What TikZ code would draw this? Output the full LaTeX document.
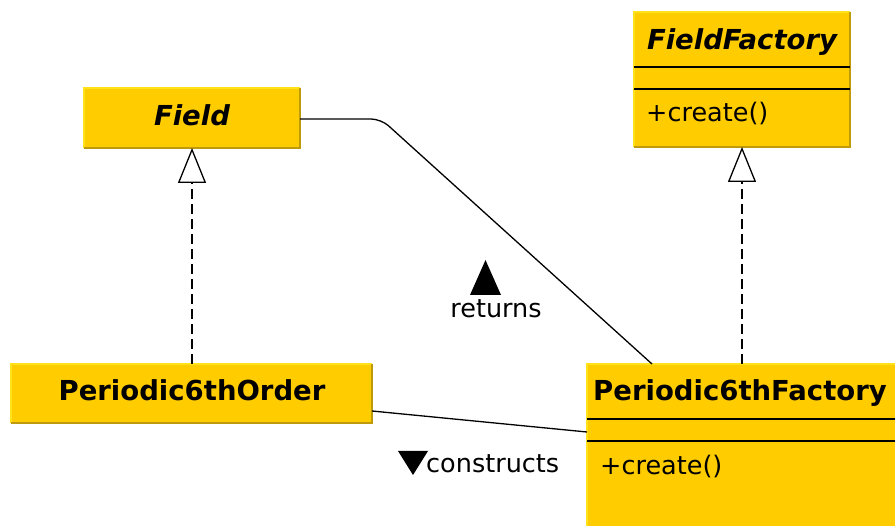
\documentclass[tikz,border=0pt]{standalone}
\usepackage{fontspec}
\setmainfont{DejaVu Sans}
\usetikzlibrary{arrows.meta,calc}

\definecolor{umlfill}{HTML}{FFCC00}
\definecolor{umlhi}{HTML}{FFE21A}
\definecolor{umllo}{HTML}{BF9A0A}

\tikzset{
  cls/.style={rectangle, fill=umlfill, draw=none, inner sep=0pt, outer sep=0pt},
  clstitle/.style={font=\fontsize{27.5}{30}\selectfont\bfseries, inner sep=0pt, anchor=base},
  clsabstract/.style={clstitle, font=\fontsize{27.5}{30}\selectfont\bfseries\itshape},
  member/.style={font=\fontsize{25.5}{28}\selectfont, inner sep=0pt, anchor=base west},
  lbl/.style={font=\fontsize{25.5}{28}\selectfont, inner sep=0pt},
  sep/.style={line width=1.4pt, black},
  hiedge/.style={line width=1.2pt, umlhi},
  loedge/.style={line width=1.2pt, umllo},
  realize/.style={line width=1.3pt, dash pattern=on 10pt off 5pt,
    -{Triangle[open, fill=white, length=35pt, width=28pt]}},
  assoc/.style={line width=1.3pt},
}

% lighter top/left edge, darker bottom/right edge
\newcommand\bevelbox[1]{%
  \draw[hiedge] (#1.south west) -- (#1.north west) -- (#1.north east);
  \draw[loedge] (#1.north east) -- (#1.south east) -- (#1.south west);}

\begin{document}
\begin{tikzpicture}[x=1pt, y=-1pt]
  \useasboundingbox (0,0) rectangle (895,526);
  \fill[white] (0,0) rectangle (895,526);

  % Field
  \node[cls, minimum width=216pt, minimum height=60pt] (field) at (192,118) {};
  \bevelbox{field}
  \node[clsabstract] (fieldT) at (192,126) {Field};

  % FieldFactory
  \node[cls, minimum width=216pt, minimum height=135pt] (ff) at (742,79.5) {};
  \bevelbox{ff}
  \node[clsabstract] (ffT) at (742,50) {FieldFactory};
  \draw[sep] (634,67) -- (850,67);
  \draw[sep] (634,89) -- (850,89);
  \node[member] (ffM) at (646,122) {+create()};

  % Periodic6thOrder
  \node[cls, minimum width=361pt, minimum height=59pt] (p6o) at (191.5,393.5) {};
  \bevelbox{p6o}
  \node[clstitle] (p6oT) at (192,401) {Periodic6thOrder};

  % Periodic6thFactory (runs past the right and bottom edges)
  \node[cls, minimum width=318pt, minimum height=176pt] (p6f) at (746,452) {};
  \bevelbox{p6f}
  \node[clstitle] (p6fT) at (740,401) {Periodic6thFactory};
  \draw[sep] (587,419) -- (905,419);
  \draw[sep] (587,441) -- (905,441);
  \node[member] (p6fM) at (600,475) {+create()};

  % realizations
  \draw[realize] (p6o.north -| field.south) -- (field.south);
  \draw[realize] (ff.south |- p6f.north) -- (ff.south);

  % associations
  \coordinate (retEnd) at ($(p6f.north west)+(65,0)$);
  \draw[assoc, rounded corners=10pt] (field.east) ++(0,1) -- (381,119) -- (retEnd);
  \draw[assoc] ($(p6o.south east)+(0,-12)$) -- ($(p6f.north west)+(0,68)$);

  % association labels
  \node[lbl, anchor=base] (retL) at (496,318) {returns};
  \fill (470,295) -- (485.5,260) -- (501,295) -- cycle;
  \node[lbl, anchor=base west] (conL) at (426,473) {constructs};
  \fill (398,451) -- (428,451) -- (413,475) -- cycle;
\end{tikzpicture}
\end{document}
